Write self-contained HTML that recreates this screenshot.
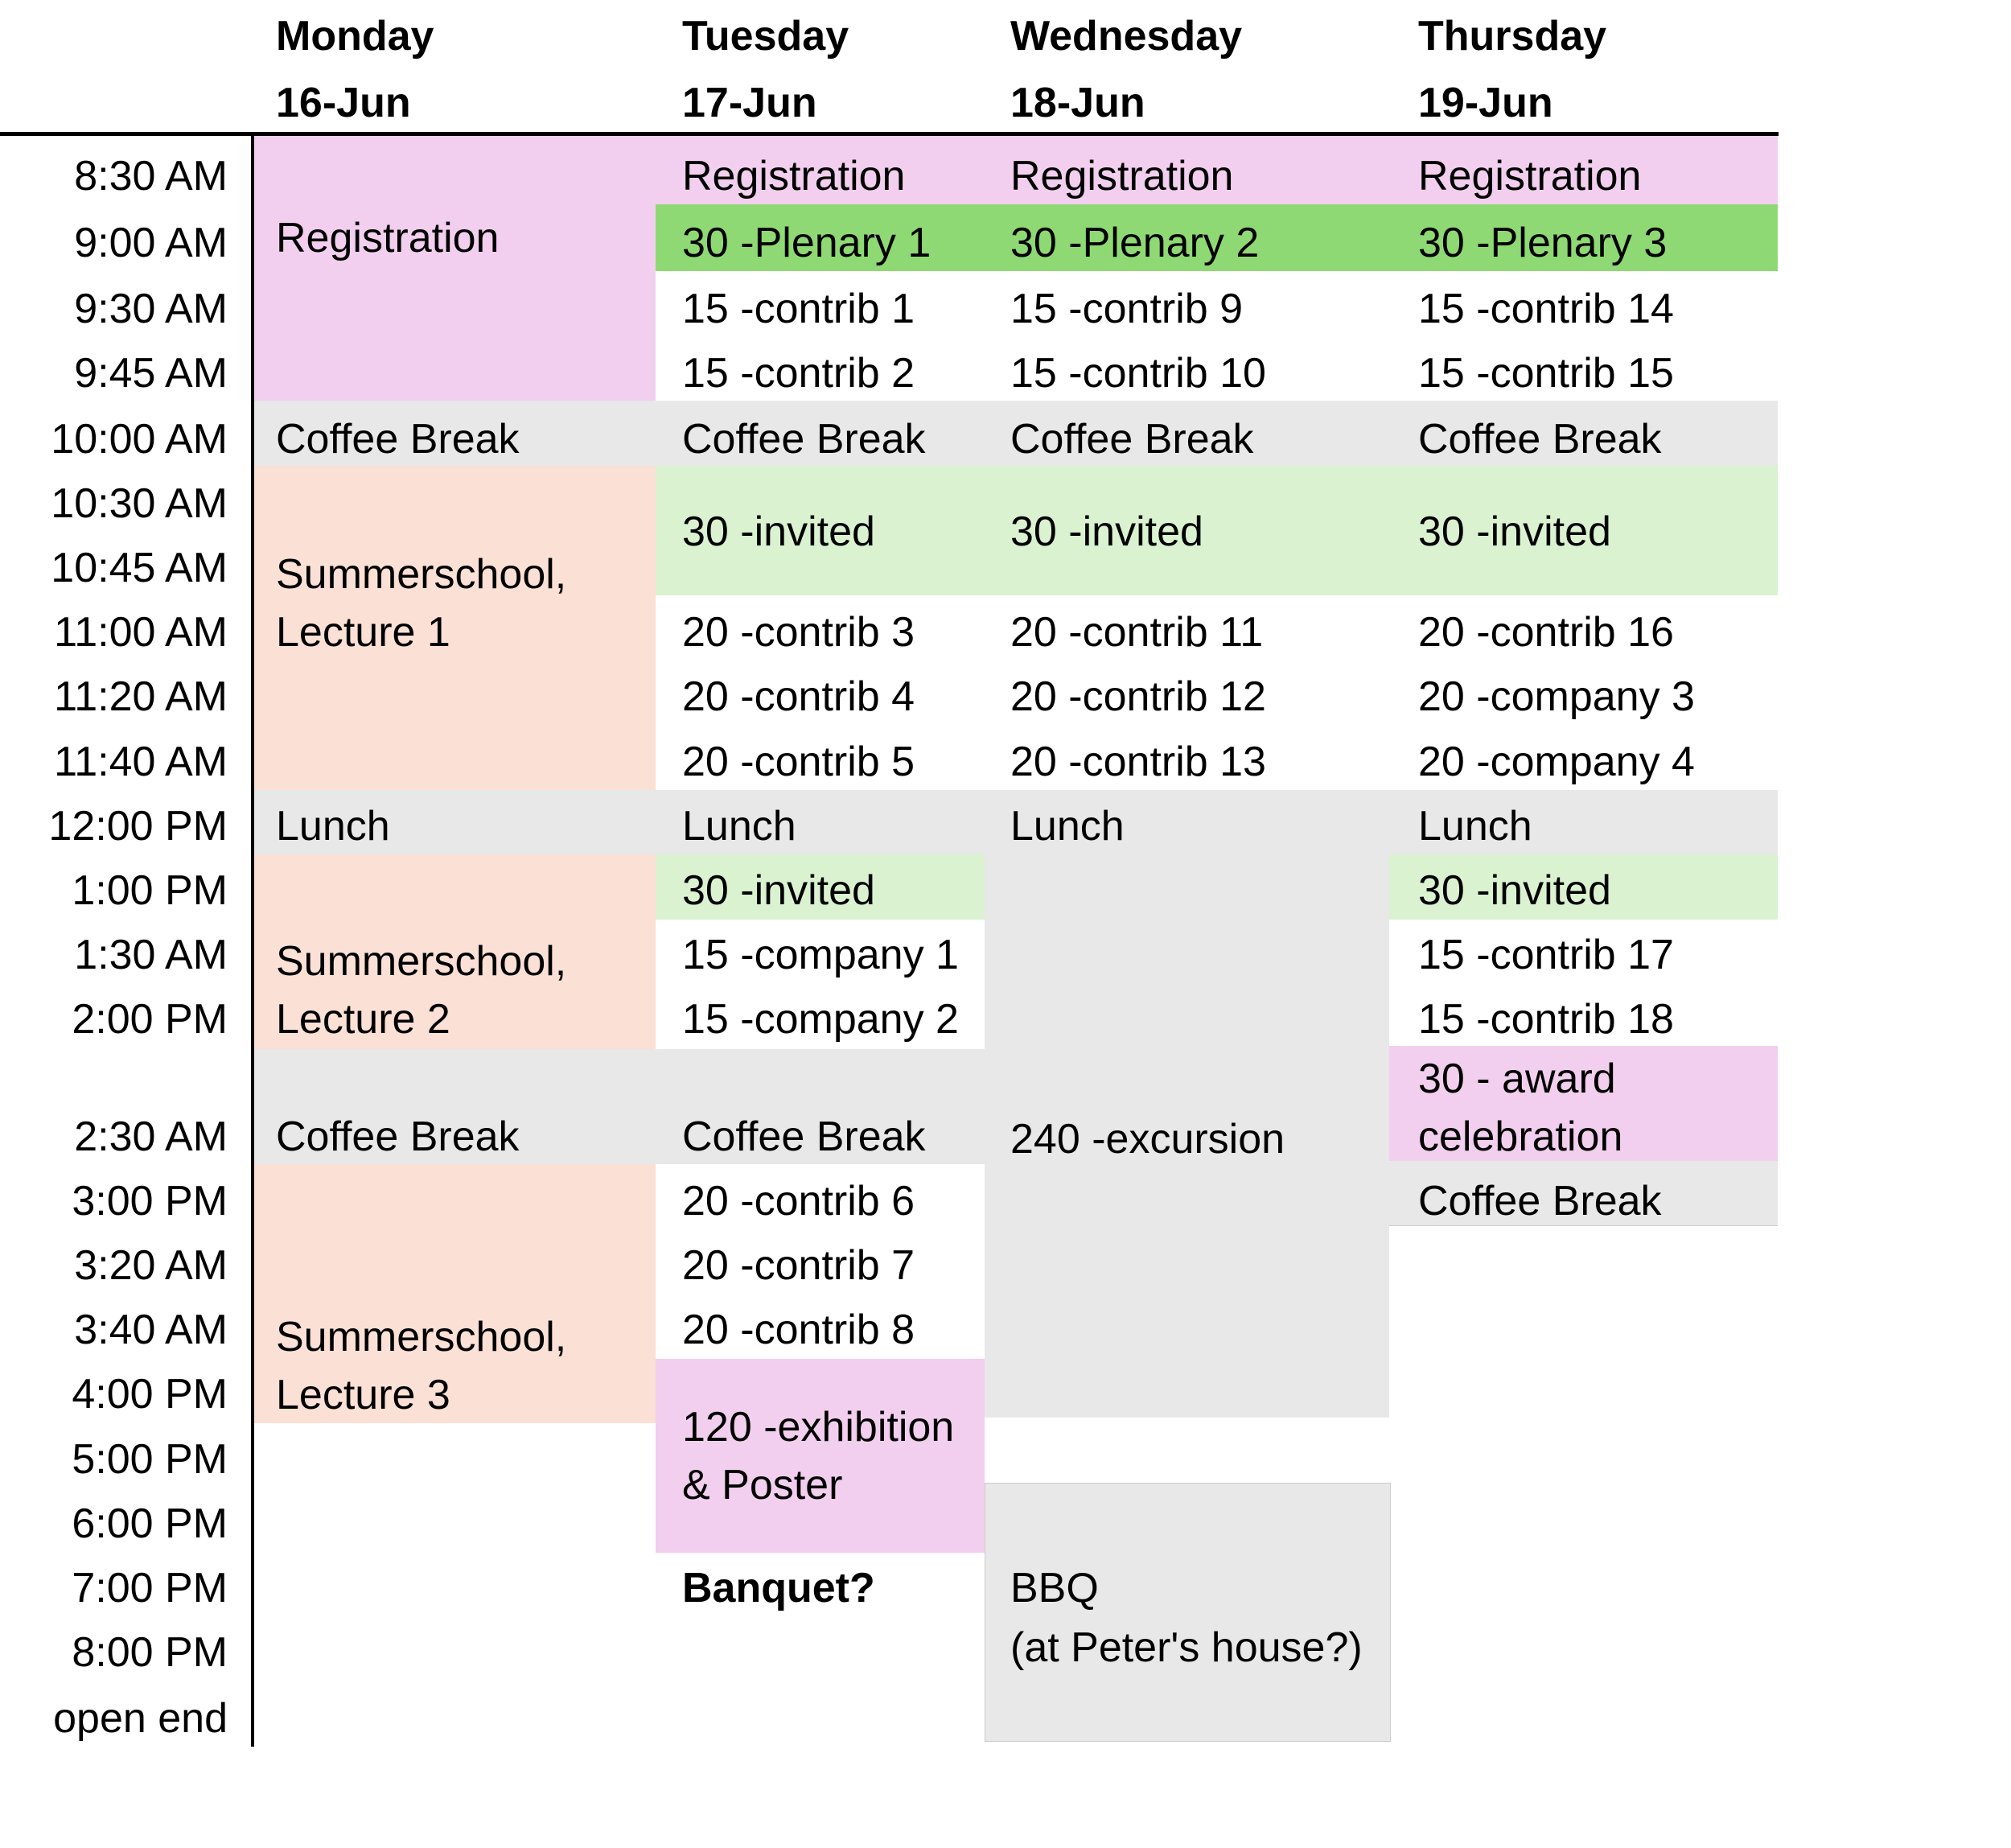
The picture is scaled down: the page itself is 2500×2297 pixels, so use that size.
<!DOCTYPE html>
<html><head><meta charset="utf-8"><style>
body{margin:0;width:2500px;height:2297px;background:#fff;position:relative;overflow:hidden;font-family:"Liberation Sans",sans-serif;}
.b{position:absolute;}
.t{position:absolute;font-size:52px;line-height:60px;height:60px;white-space:nowrap;color:#000;}
.r{left:0;width:283px;text-align:right;}
.h{font-weight:bold;}
</style></head><body>
<!-- backgrounds -->
<div class="b" style="left:316px;top:166px;width:1894px;height:88px;background:#f2cfee"></div>
<div class="b" style="left:316px;top:166px;width:499px;height:332px;background:#f2cfee"></div>
<div class="b" style="left:815px;top:254px;width:1395px;height:83px;background:#8fd974"></div>
<div class="b" style="left:316px;top:498px;width:1894px;height:81px;background:#e8e8e8"></div>
<div class="b" style="left:316px;top:579px;width:499px;height:403px;background:#fbe0d5"></div>
<div class="b" style="left:815px;top:579px;width:1395px;height:161px;background:#daf2d0"></div>
<div class="b" style="left:316px;top:982px;width:1894px;height:80px;background:#e8e8e8"></div>
<div class="b" style="left:1224px;top:982px;width:503px;height:780px;background:#e8e8e8"></div>
<div class="b" style="left:316px;top:1062px;width:499px;height:242px;background:#fbe0d5"></div>
<div class="b" style="left:815px;top:1062px;width:409px;height:81px;background:#daf2d0"></div>
<div class="b" style="left:1727px;top:1062px;width:483px;height:81px;background:#daf2d0"></div>
<div class="b" style="left:316px;top:1304px;width:908px;height:143px;background:#e8e8e8"></div>
<div class="b" style="left:1727px;top:1300px;width:483px;height:143px;background:#f2cfee"></div>
<div class="b" style="left:1727px;top:1443px;width:483px;height:80px;background:#e8e8e8;border-bottom:1px solid #ccc"></div>
<div class="b" style="left:316px;top:1447px;width:499px;height:322px;background:#fbe0d5"></div>
<div class="b" style="left:815px;top:1689px;width:409px;height:241px;background:#f2cfee"></div>
<div class="b" style="left:1224px;top:1843px;width:503px;height:320px;background:#e8e8e8;border:1px solid #ccc"></div>
<!-- lines -->
<div class="b" style="left:0;top:164px;width:2211px;height:5px;background:#000"></div>
<div class="b" style="left:312px;top:166px;width:4px;height:2005px;background:#000"></div>
<!-- headers -->
<div class="t h" style="left:343px;top:15px">Monday</div>
<div class="t h" style="left:343px;top:98px">16-Jun</div>
<div class="t h" style="left:848px;top:15px">Tuesday</div>
<div class="t h" style="left:848px;top:98px">17-Jun</div>
<div class="t h" style="left:1256px;top:15px">Wednesday</div>
<div class="t h" style="left:1256px;top:98px">18-Jun</div>
<div class="t h" style="left:1763px;top:15px">Thursday</div>
<div class="t h" style="left:1763px;top:98px">19-Jun</div>
<!-- times -->
<div class="t r" style="top:189px">8:30 AM</div>
<div class="t r" style="top:272px">9:00 AM</div>
<div class="t r" style="top:354px">9:30 AM</div>
<div class="t r" style="top:434px">9:45 AM</div>
<div class="t r" style="top:516px">10:00 AM</div>
<div class="t r" style="top:596px">10:30 AM</div>
<div class="t r" style="top:676px">10:45 AM</div>
<div class="t r" style="top:756px">11:00 AM</div>
<div class="t r" style="top:836px">11:20 AM</div>
<div class="t r" style="top:917px">11:40 AM</div>
<div class="t r" style="top:997px">12:00 PM</div>
<div class="t r" style="top:1077px">1:00 PM</div>
<div class="t r" style="top:1157px">1:30 AM</div>
<div class="t r" style="top:1237px">2:00 PM</div>
<div class="t r" style="top:1383px">2:30 AM</div>
<div class="t r" style="top:1463px">3:00 PM</div>
<div class="t r" style="top:1543px">3:20 AM</div>
<div class="t r" style="top:1623px">3:40 AM</div>
<div class="t r" style="top:1703px">4:00 PM</div>
<div class="t r" style="top:1784px">5:00 PM</div>
<div class="t r" style="top:1864px">6:00 PM</div>
<div class="t r" style="top:1944px">7:00 PM</div>
<div class="t r" style="top:2024px">8:00 PM</div>
<div class="t r" style="top:2106px">open end</div>
<!-- Monday -->
<div class="t" style="left:343px;top:266px">Registration</div>
<div class="t" style="left:343px;top:516px">Coffee Break</div>
<div class="t" style="left:343px;top:684px">Summerschool,</div>
<div class="t" style="left:343px;top:756px">Lecture 1</div>
<div class="t" style="left:343px;top:997px">Lunch</div>
<div class="t" style="left:343px;top:1165px">Summerschool,</div>
<div class="t" style="left:343px;top:1237px">Lecture 2</div>
<div class="t" style="left:343px;top:1383px">Coffee Break</div>
<div class="t" style="left:343px;top:1632px">Summerschool,</div>
<div class="t" style="left:343px;top:1704px">Lecture 3</div>
<!-- Tuesday -->
<div class="t" style="left:848px;top:189px">Registration</div>
<div class="t" style="left:848px;top:272px">30 -Plenary 1</div>
<div class="t" style="left:848px;top:354px">15 -contrib 1</div>
<div class="t" style="left:848px;top:434px">15 -contrib 2</div>
<div class="t" style="left:848px;top:516px">Coffee Break</div>
<div class="t" style="left:848px;top:631px">30 -invited</div>
<div class="t" style="left:848px;top:756px">20 -contrib 3</div>
<div class="t" style="left:848px;top:836px">20 -contrib 4</div>
<div class="t" style="left:848px;top:917px">20 -contrib 5</div>
<div class="t" style="left:848px;top:997px">Lunch</div>
<div class="t" style="left:848px;top:1077px">30 -invited</div>
<div class="t" style="left:848px;top:1157px">15 -company 1</div>
<div class="t" style="left:848px;top:1237px">15 -company 2</div>
<div class="t" style="left:848px;top:1383px">Coffee Break</div>
<div class="t" style="left:848px;top:1463px">20 -contrib 6</div>
<div class="t" style="left:848px;top:1543px">20 -contrib 7</div>
<div class="t" style="left:848px;top:1623px">20 -contrib 8</div>
<div class="t" style="left:848px;top:1744px">120 -exhibition</div>
<div class="t" style="left:848px;top:1816px">&amp; Poster</div>
<div class="t h" style="left:848px;top:1944px">Banquet?</div>
<!-- Wednesday -->
<div class="t" style="left:1256px;top:189px">Registration</div>
<div class="t" style="left:1256px;top:272px">30 -Plenary 2</div>
<div class="t" style="left:1256px;top:354px">15 -contrib 9</div>
<div class="t" style="left:1256px;top:434px">15 -contrib 10</div>
<div class="t" style="left:1256px;top:516px">Coffee Break</div>
<div class="t" style="left:1256px;top:631px">30 -invited</div>
<div class="t" style="left:1256px;top:756px">20 -contrib 11</div>
<div class="t" style="left:1256px;top:836px">20 -contrib 12</div>
<div class="t" style="left:1256px;top:917px">20 -contrib 13</div>
<div class="t" style="left:1256px;top:997px">Lunch</div>
<div class="t" style="left:1256px;top:1386px">240 -excursion</div>
<div class="t" style="left:1256px;top:1944px">BBQ</div>
<div class="t" style="left:1256px;top:2018px">(at Peter's house?)</div>
<!-- Thursday -->
<div class="t" style="left:1763px;top:189px">Registration</div>
<div class="t" style="left:1763px;top:272px">30 -Plenary 3</div>
<div class="t" style="left:1763px;top:354px">15 -contrib 14</div>
<div class="t" style="left:1763px;top:434px">15 -contrib 15</div>
<div class="t" style="left:1763px;top:516px">Coffee Break</div>
<div class="t" style="left:1763px;top:631px">30 -invited</div>
<div class="t" style="left:1763px;top:756px">20 -contrib 16</div>
<div class="t" style="left:1763px;top:836px">20 -company 3</div>
<div class="t" style="left:1763px;top:917px">20 -company 4</div>
<div class="t" style="left:1763px;top:997px">Lunch</div>
<div class="t" style="left:1763px;top:1077px">30 -invited</div>
<div class="t" style="left:1763px;top:1157px">15 -contrib 17</div>
<div class="t" style="left:1763px;top:1237px">15 -contrib 18</div>
<div class="t" style="left:1763px;top:1311px">30 - award</div>
<div class="t" style="left:1763px;top:1383px">celebration</div>
<div class="t" style="left:1763px;top:1463px">Coffee Break</div>
</body></html>
